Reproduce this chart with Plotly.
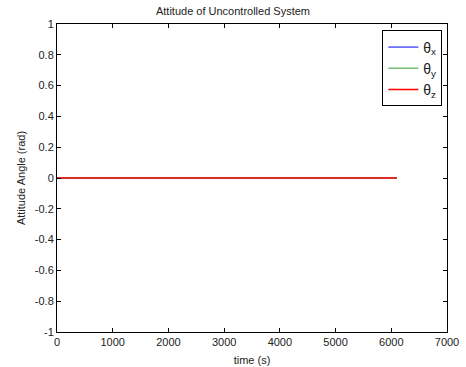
import plotly.graph_objects as go

time_s = [0, 1000, 2000, 3000, 4000, 5000, 6000, 6100]
theta_x = [0, 0, 0, 0, 0, 0, 0, 0]
theta_y = [0, 0, 0, 0, 0, 0, 0, 0]
theta_z = [0, 0, 0, 0, 0, 0, 0, 0]

x_ticks = [0, 1000, 2000, 3000, 4000, 5000, 6000, 7000]
y_ticks = [-1, -0.8, -0.6, -0.4, -0.2, 0, 0.2, 0.4, 0.6, 0.8, 1]
y_tick_text = ["-1", "-0.8", "-0.6", "-0.4", "-0.2", "0", "0.2", "0.4", "0.6", "0.8", "1"]

font = "Liberation Sans, Arial, sans-serif"

fig = go.Figure()
fig.add_trace(go.Scatter(x=time_s, y=theta_x, mode="lines", name="θ<sub>x</sub>",
                         line=dict(color="#0000ff", width=1)))
fig.add_trace(go.Scatter(x=time_s, y=theta_y, mode="lines", name="θ<sub>y</sub>",
                         line=dict(color="#74bd74", width=1.5)))
fig.add_trace(go.Scatter(x=time_s, y=theta_z, mode="lines", name="θ<sub>z</sub>",
                         line=dict(color="#ff0000", width=1.5)))

axis_common = dict(showline=True, linecolor="black", linewidth=1, mirror="ticks",
                   ticks="inside", ticklen=4, tickcolor="black", showgrid=False,
                   zeroline=False, automargin=False,
                   tickfont=dict(family=font, size=11, color="#222"))

fig.update_layout(
    width=466, height=367,
    margin=dict(l=57, r=19, t=24, b=35),
    paper_bgcolor="white", plot_bgcolor="white",
    title=dict(text="Attitude of Uncontrolled System", x=0.5, xanchor="center",
               y=1 - 11 / 367, yanchor="middle",
               font=dict(family=font, size=11, color="#222")),
    xaxis=dict(range=[0, 7000], tickvals=x_ticks,
               title=dict(text="time (s)", font=dict(family=font, size=11, color="#222"), standoff=9),
               **axis_common),
    yaxis=dict(range=[-1, 1], tickvals=y_ticks, ticktext=y_tick_text,
               title=dict(text="Attitude Angle (rad)", font=dict(family=font, size=11, color="#222"), standoff=6),
               **axis_common),
    showlegend=True,
    legend=dict(x=0.988, y=0.979, xanchor="right", yanchor="top",
                bordercolor="black", borderwidth=1, bgcolor="white",
                font=dict(family=font, size=14, color="#222"),
                itemwidth=30, tracegroupgap=0),
)

fig.write_html("out.html")
